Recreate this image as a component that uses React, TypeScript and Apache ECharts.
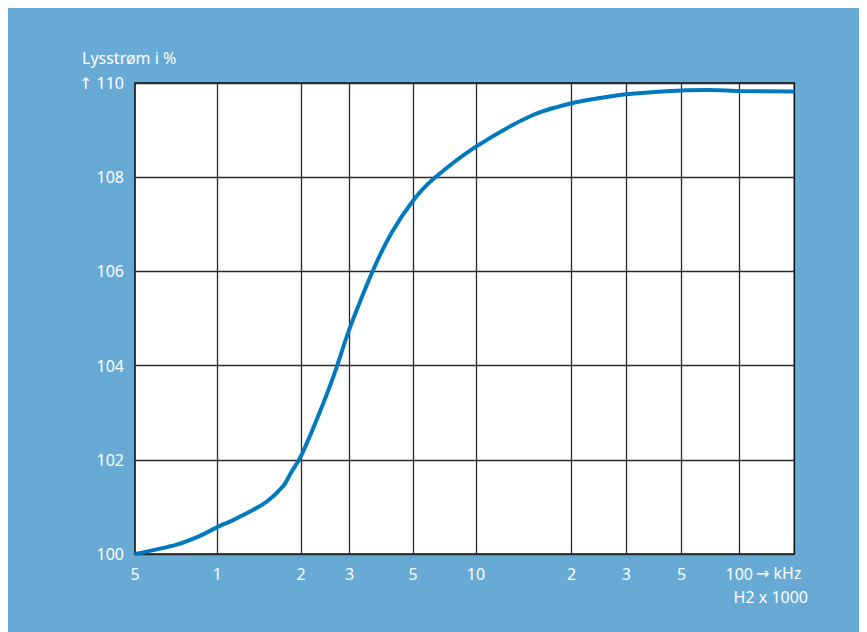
import React, { useEffect, useRef } from "react";
import * as echarts from "echarts";

// Tick values (kHz) and their printed labels
const freqTicks = [0.5, 1, 2, 3, 5, 10, 20, 30, 50, 100];
const tickLabels = ["5", "1", "2", "3", "5", "10", "2", "3", "5", "100"];
const axisEndFreq = 190;

// Y axis ticks
const yTicks = [100, 102, 104, 106, 108, 110];

// Curve: frequency (kHz) and luminous flux (%)
const curveFreq = [0.5, 0.71, 0.86, 1.0, 1.14, 1.31, 1.505, 1.73, 1.83, 2.0, 2.28, 2.62, 3.0, 3.63, 4.2, 5.0, 6.25, 10, 15.1, 20, 24.7, 30, 50, 70, 100, 190];
const curvePct = [100.0, 100.2, 100.38, 100.57, 100.72, 100.9, 101.11, 101.45, 101.7, 102.08, 102.85, 103.76, 104.78, 106.03, 106.81, 107.5, 107.96, 108.65, 109.32, 109.57, 109.68, 109.76, 109.84, 109.85, 109.83, 109.82];

// Layout: the scale of the original drawing is not a pure log scale,
// so each tick gets its own position along the axis (axis units).
const tickPositions = [0, 82.3, 166, 214.5, 278, 341, 436.7, 491.3, 546.7, 604.3];
const axisEndPos = 659.3;

const anchorsF = [...freqTicks, axisEndFreq];
const anchorsP = [...tickPositions, axisEndPos];

function freqToPos(f: number): number {
  for (let i = 0; i < anchorsF.length - 1; i++) {
    const f0 = anchorsF[i];
    const f1 = anchorsF[i + 1];
    if (f <= f1 || i === anchorsF.length - 2) {
      const t = (Math.log(f) - Math.log(f0)) / (Math.log(f1) - Math.log(f0));
      return anchorsP[i] + t * (anchorsP[i + 1] - anchorsP[i]);
    }
  }
  return anchorsP[anchorsP.length - 1];
}

const FONT = "'Noto Sans', 'DejaVu Sans', sans-serif";

export default function App() {
  const ref = useRef<HTMLDivElement>(null);

  useEffect(() => {
    if (!ref.current) return;
    const chart = echarts.init(ref.current, undefined, { renderer: "svg" });
    const data = curveFreq.map((f, i) => [freqToPos(f), curvePct[i]]);
    const gridLines = freqTicks.slice(1).map((f) => ({ xAxis: freqToPos(f) }));

    chart.setOption({
      animation: false,
      backgroundColor: "#67AAD5",
      textStyle: { fontFamily: FONT },
      grid: {
        left: 127,
        right: 72.7,
        top: 75,
        bottom: 78,
        show: true,
        backgroundColor: "#ffffff",
        borderColor: "#111111",
        borderWidth: 1.6,
        z: 0,
      },
      xAxis: {
        type: "value",
        min: 0,
        max: axisEndPos,
        axisLine: { show: false },
        axisTick: { show: false, customValues: tickPositions },
        splitLine: { show: false },
        axisLabel: {
          customValues: tickPositions,
          color: "#ffffff",
          fontSize: 16,
          fontFamily: FONT,
          margin: 12,
          formatter: (v: number) => {
            const idx = tickPositions.findIndex((p) => Math.abs(p - v) < 0.01);
            return idx >= 0 ? tickLabels[idx] : "";
          },
        },
      },
      yAxis: {
        type: "value",
        min: yTicks[0],
        max: yTicks[yTicks.length - 1],
        interval: 2,
        axisLine: { show: false },
        axisTick: { show: false },
        splitLine: { show: true, lineStyle: { color: "#2a2a2a", width: 1.3 } },
        axisLabel: {
          color: "#ffffff",
          fontSize: 16,
          fontFamily: FONT,
          margin: 11,
          formatter: (v: number) => (v === 110 ? "↑ 110" : String(v)),
        },
      },
      graphic: [
        {
          type: "text",
          left: 74,
          top: 42,
          style: { text: "Lysstrøm i %", fill: "#ffffff", font: `16px ${FONT}` },
        },
        {
          type: "text",
          left: 748,
          top: 557,
          style: { text: "→ kHz", fill: "#ffffff", font: `16px ${FONT}` },
        },
        {
          type: "text",
          right: 59,
          top: 581,
          style: { text: "H2 x 1000", fill: "#ffffff", font: `16px ${FONT}`, align: "right" },
        },
      ],
      series: [
        {
          type: "line",
          data: [],
          silent: true,
          z: 1,
          markLine: {
            silent: true,
            symbol: "none",
            label: { show: false },
            lineStyle: { color: "#2a2a2a", width: 1.3, type: "solid" },
            data: gridLines,
          },
        },
        {
          type: "line",
          data,
          z: 5,
          smooth: 0.3,
          showSymbol: false,
          symbol: "none",
          lineStyle: { color: "#0079BE", width: 4 },
        },
      ],
    });

    return () => chart.dispose();
  }, []);

  return <div ref={ref} style={{ width: 859, height: 624 }} />;
}
